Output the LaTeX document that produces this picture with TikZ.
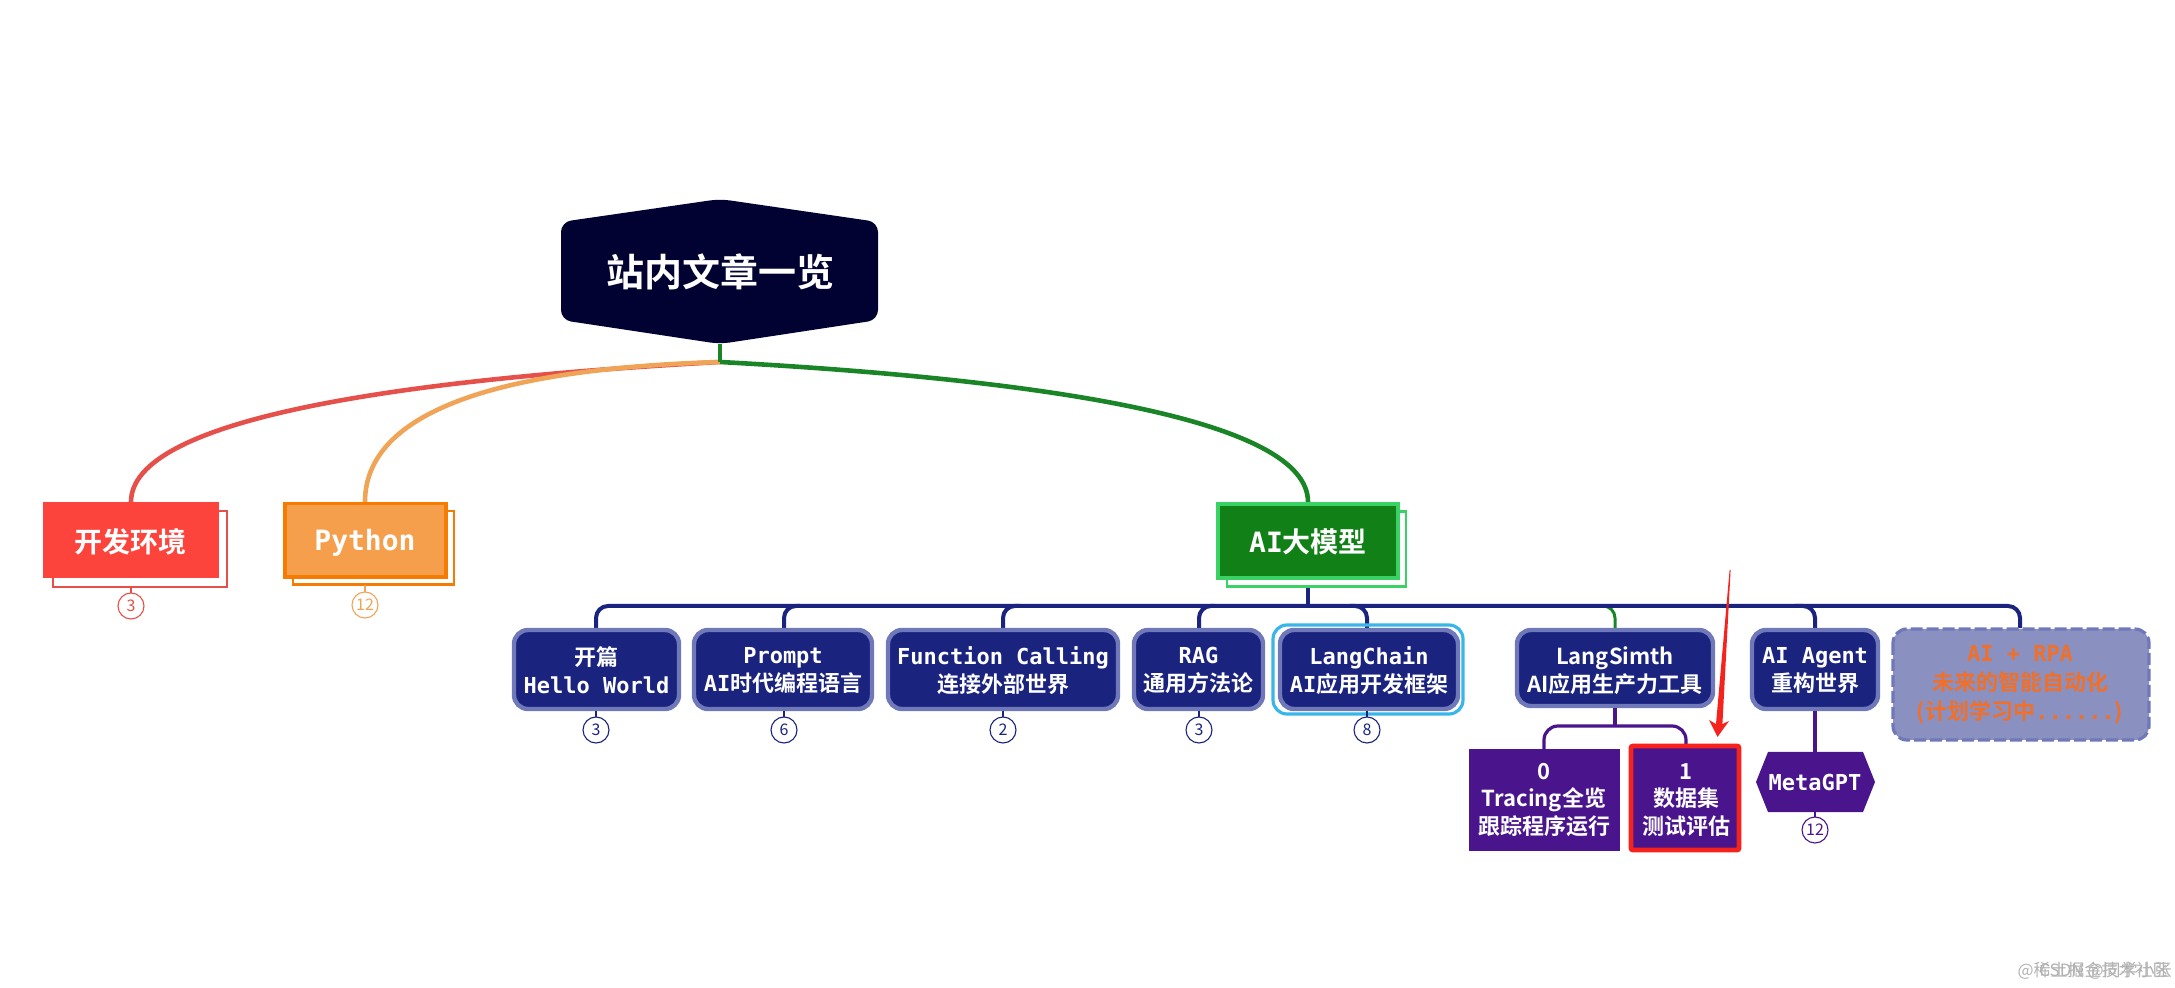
\documentclass[tikz,border=0pt]{standalone}
\usepackage{fontspec}
\setmainfont{Noto Sans CJK SC}[BoldFont={Noto Sans CJK SC Bold}]
\newfontfamily\monocn{DejaVu Sans Mono}
\newcommand{\mo}[1]{{\monocn\bfseries #1}}
\definecolor{rootc}{HTML}{010232}
\definecolor{redf}{HTML}{FD443C}
\definecolor{redl}{HTML}{E5504A}
\definecolor{orf}{HTML}{F59E4C}
\definecolor{ord}{HTML}{F57C00}
\definecolor{orl}{HTML}{F0A458}
\definecolor{grf}{HTML}{118017}
\definecolor{grc}{HTML}{1A8526}
\definecolor{grb}{HTML}{3AD264}
\definecolor{navy}{HTML}{1A237E}
\definecolor{navb}{HTML}{6F78B8}
\definecolor{purp}{HTML}{4A148C}
\definecolor{skyb}{HTML}{39B5E8}
\definecolor{rpaf}{HTML}{8A90C0}
\definecolor{rpat}{HTML}{F0702A}
\definecolor{redmark}{HTML}{F5221D}
\tikzset{
 x=0.5pt,y=-0.5pt,
 navbox/.style={rounded corners=7pt,fill=navy,draw=navb,line width=2.2pt},
 ptext/.style={text=white,align=center,font=\fontsize{11}{14.2}\selectfont\bfseries,inner sep=0pt},
 topic/.style={text=white,align=center,font=\fontsize{14}{16}\selectfont\bfseries,inner sep=0pt},
 bus/.style={navy,line width=2pt,rounded corners=6pt},
 pur/.style={purp,line width=1.6pt},
 countc/.style={circle,draw=#1,fill=white,text=#1,line width=0.55pt,inner sep=0pt,minimum size=13pt,font=\fontsize{8}{9}\selectfont},
 countc/.default=navy,
}
\begin{document}
\begin{tikzpicture}
\useasboundingbox (0,0) rectangle (2175,988);

% connectors behind
\coordinate (jun) at (720,362);
\coordinate (a1) at (131,502);
\coordinate (a2) at (365,502);
\coordinate (a3) at (1308,502);
\draw[redl,line width=2.3pt] (jun) .. controls (390,380) and (131,420) .. (a1);
\draw[orl,line width=2.3pt] (jun) .. controls (450,370) and (365,430) .. (a2);
\draw[grc,line width=2.3pt] (jun) .. controls (1050,380) and (1308,420) .. (a3);
\draw[grc,line width=2pt] (720,344) -- (jun);

% root
\fill[rootc,rounded corners=5pt] (720,199) -- (878,222) -- (878,320) -- (720,344) -- (561,320) -- (561,222) -- cycle;
\node[text=white,inner sep=0pt,font=\fontsize{19}{21}\selectfont\bfseries] (root) at (720,272) {站内文章一览};

% topics
\draw[redl,line width=1.4pt] (53,511) rectangle (227,587);
\fill[redf] (43,502) rectangle (219,578);
\node[topic] (t1) at (131,542) {开发环境};
\draw[redl,line width=1.2pt] (131,587) -- (131,594);
\node[countc=redl] (c1) at (131,606) {3};

\draw[ord,line width=1.4pt] (293,511) rectangle (454,584.5);
\draw[ord,fill=orf,line width=1.6pt] (285,503.5) rectangle (446,577);
\node[topic] (t2) at (365,542.5) {\mo{Python}};
\draw[orl,line width=1.2pt] (365,585) -- (365,592);
\node[countc=orl] (c2) at (365,605) {12};

% bus
\draw[navy,line width=2pt] (1308,587) -- (1308,606);
\draw[grc,line width=1.5pt,rounded corners=6pt] (1595,606) -- (1615,606) -- (1615,628);
\draw[bus] (596,628) -- (596,606) -- (2020,606) -- (2020,628);
\draw[bus] (784,628) -- (784,606) -- (800,606);
\draw[bus] (1003,628) -- (1003,606) -- (1020,606);
\draw[bus] (1199,628) -- (1199,606) -- (1215,606);
\draw[bus] (1350,606) -- (1367,606) -- (1367,628);
\draw[bus] (1795,606) -- (1815,606) -- (1815,628);

\draw[grb,line width=1.4pt] (1227,511.5) rectangle (1406,586.5);
\draw[grb,fill=grf,line width=1.6pt] (1218,504) rectangle (1398,578);
\node[topic] (t3) at (1308,542) {\mo{AI}大模型};

% level 2
\newcommand{\navnode}[5]{%
  \draw[navbox] (#1+2,630) rectangle (#2-2,#3-2);
  \node[ptext] (#5) at ({(#1+#2)/2},670.5) {#4};
}
\navnode{512}{681}{711}{开篇\\\mo{Hello World}}{n1}
\navnode{692}{874}{711}{\mo{Prompt}\\\mo{AI}时代编程语言}{n2}
\navnode{886}{1120}{711}{\mo{Function Calling}\\连接外部世界}{n3}
\navnode{1132}{1265}{711}{\mo{RAG}\\通用方法论}{n4}
\draw[skyb,line width=1.6pt,rounded corners=7pt] (1273,625) rectangle (1463,714);
\navnode{1278}{1460}{711}{\mo{LangChain}\\\mo{AI}应用开发框架}{n5}
\navnode{1515}{1715}{708}{LangSimth\\AI应用生产力工具}{n6}
\navnode{1750}{1880}{711}{\mo{AI Agent}\\重构世界}{n7}

\foreach \x/\n/\h in {596/3/a,784/6/b,1003/2/c,1199/3/d,1367/8/e}{
  \draw[navy,line width=1pt] (\x,711) -- (\x,717);
  \node[countc] (k\h) at (\x,730) {\n};
}

% RPA
\draw[navb,fill=rpaf,line width=1.6pt,dash pattern=on 6pt off 2pt,rounded corners=7pt] (1893,629) rectangle (2149,740);
\node[text=rpat,align=center,inner sep=0pt,font=\fontsize{11}{14.5}\selectfont\bfseries] (n8) at (2020,685) {\mo{AI + RPA}\\未来的智能自动化\\(计划学习中\mo{......})};

% purple branch
\draw[pur] (1615,708) -- (1615,726);
\draw[pur,rounded corners=7pt] (1544,749) -- (1544,726) -- (1686,726) -- (1686,749);
\draw[pur] (1815,711) -- (1815,752);
\fill[purp] (1469,749) rectangle (1620,851);
\node[ptext,font=\fontsize{11}{13.9}\selectfont\bfseries] (b0) at (1544,800) {0\\Tracing全览\\跟踪程序运行};
\draw[redmark,fill=purp,line width=2.4pt,rounded corners=1pt] (1631,746) rectangle (1739,850);
\node[ptext,font=\fontsize{11}{13.9}\selectfont\bfseries] (b1) at (1686,800) {1\\数据集\\测试评估};

\fill[purp] (1768,752) -- (1863,752) -- (1875,782) -- (1863,812) -- (1768,812) -- (1756,782) -- cycle;
\node[ptext] (meta) at (1815,782) {\mo{MetaGPT}};
\draw[pur,line width=1pt] (1815,812) -- (1815,817);
\node[countc=purp] (k12) at (1815,830) {12};

% arrow
\fill[redmark] (1730.6,570) -- (1722.4,724) -- (1729,721) -- (1717.5,737) -- (1709,720) -- (1716,724) -- (1729.6,570) -- cycle;

% watermark
\node[text=gray!60,inner sep=0pt,anchor=east,font=\fontsize{8.5}{10}\selectfont] (wm1) at (2170,971) {@稀土掘金技术社区};
\node[text=gray!60,inner sep=0pt,anchor=east,font=\fontsize{8.5}{10}\selectfont] (wm2) at (2172,971) {CSDN @同学小张};
\end{tikzpicture}
\end{document}
